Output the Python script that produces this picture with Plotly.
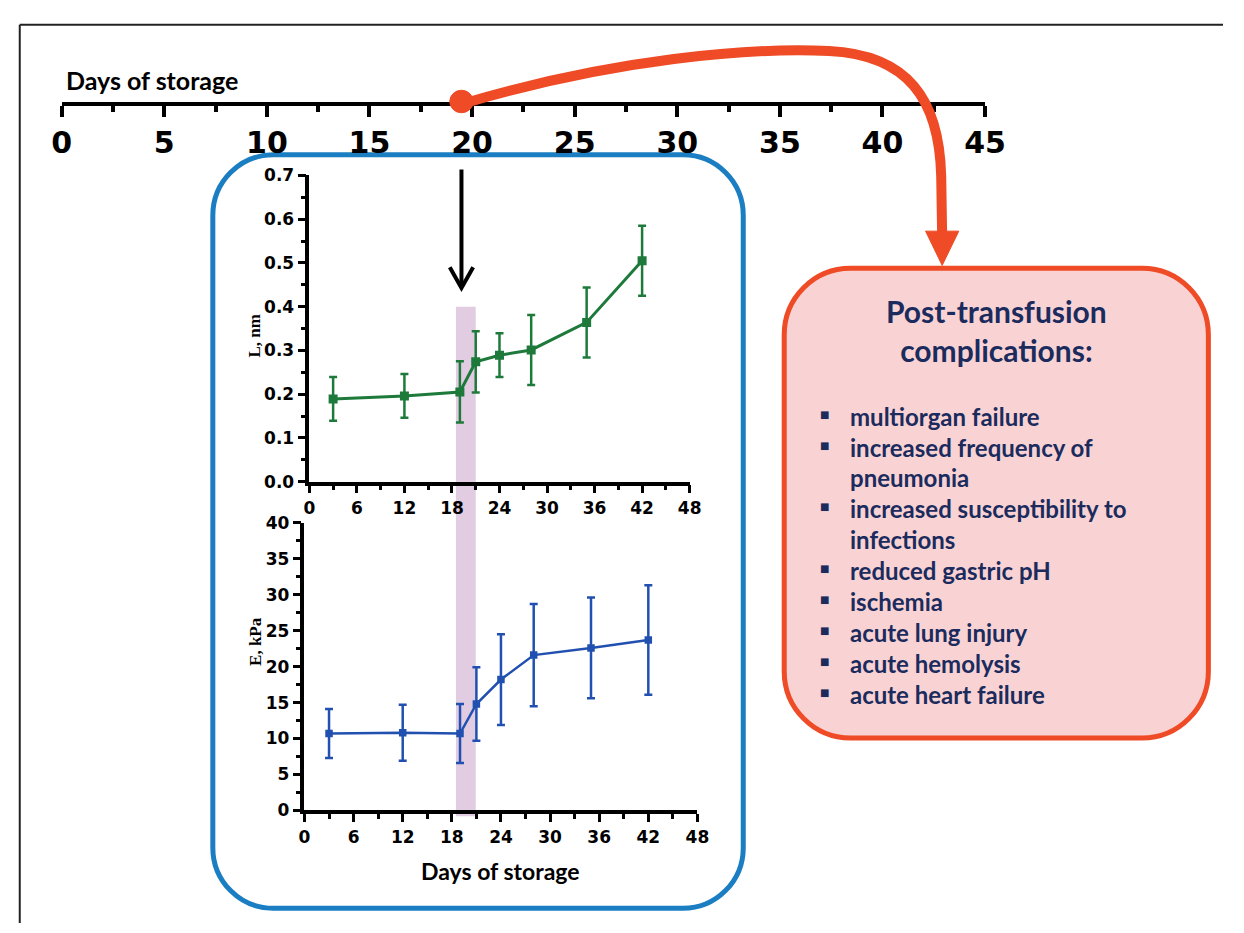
import plotly.graph_objects as go

W, H = 1244, 933


def px(x):
    return x / W


def py(y):
    return 1 - y / H


# ---------------- data ----------------
days = [3, 12, 19, 21, 24, 28, 35, 42]
L_nm = [0.189, 0.196, 0.205, 0.274, 0.289, 0.301, 0.364, 0.505]
L_err = [0.050, 0.050, 0.070, 0.070, 0.050, 0.080, 0.080, 0.080]
E_kpa = [10.7, 10.8, 10.7, 14.8, 18.2, 21.6, 22.6, 23.7]
E_err = [3.4, 3.9, 4.1, 5.1, 6.3, 7.1, 7.0, 7.6]
timeline_ticks = list(range(0, 46, 5))
band_days = [18.5, 21.0]
band_top_L = 0.4
title_lines = ["Post-transfusion", "complications:"]
complication_lines = [
    (True, "multiorgan failure"),
    (True, "increased frequency of"),
    (False, "pneumonia"),
    (True, "increased susceptibility to"),
    (False, "infections"),
    (True, "reduced gastric pH"),
    (True, "ischemia"),
    (True, "acute lung injury"),
    (True, "acute hemolysis"),
    (True, "acute heart failure"),
]

GREEN = "#1d7a3a"
BLUE = "#2150b0"
ORANGE = "#ee4b26"
NAVY = "#1b2b5e"

fig = go.Figure()

fig.add_trace(go.Scatter(
    x=days, y=L_nm, mode="lines+markers", xaxis="x", yaxis="y",
    line=dict(color=GREEN, width=3),
    marker=dict(symbol="square", size=9, color=GREEN),
    error_y=dict(type="data", array=L_err, color=GREEN, thickness=2.5, width=4),
    showlegend=False, hoverinfo="skip"))

fig.add_trace(go.Scatter(
    x=days, y=E_kpa, mode="lines+markers", xaxis="x2", yaxis="y2",
    line=dict(color=BLUE, width=2.5),
    marker=dict(symbol="square", size=7.5, color=BLUE),
    error_y=dict(type="data", array=E_err, color=BLUE, thickness=2.5, width=4),
    showlegend=False, hoverinfo="skip"))

fig.add_trace(go.Scatter(
    x=[timeline_ticks[0], timeline_ticks[-1]], y=[0, 0], xaxis="x3", yaxis="y3",
    mode="markers", marker=dict(opacity=0), showlegend=False, hoverinfo="skip"))

tickfont = dict(family="DejaVu Sans", size=17, color="black", weight="bold")
common = dict(showline=True, linecolor="black", linewidth=3.5, ticks="outside",
              ticklen=8, tickwidth=3, tickcolor="black", showgrid=False,
              zeroline=False, tickfont=tickfont)
minor_common = dict(ticks="outside", ticklen=5, tickwidth=2.5, tickcolor="black", showgrid=False)

up_y = [py(482), py(169)]
lo_y = [py(818), py(524)]

fig.update_layout(
    width=W, height=H,
    margin=dict(l=0, r=0, t=0, b=0, pad=0),
    paper_bgcolor="white", plot_bgcolor="rgba(0,0,0,0)",
    showlegend=False,
    xaxis=dict(domain=[px(307), px(697)], range=[0, 48], tick0=0, dtick=6,
               anchor="y", minor=dict(dtick=3, tick0=0, **minor_common), **common),
    yaxis=dict(domain=up_y, range=[0, 0.7], tick0=0, dtick=0.1, tickformat=".1f",
               anchor="x", minor=dict(dtick=0.05, tick0=0, **minor_common), **common),
    xaxis2=dict(domain=[px(302), px(705)], range=[0, 48], tick0=0, dtick=6,
                anchor="y2", minor=dict(dtick=3, tick0=0, **minor_common), **common),
    yaxis2=dict(domain=lo_y, range=[0, 40], tick0=0, dtick=5,
                anchor="x2", minor=dict(dtick=2.5, tick0=0, **minor_common), **common),
    xaxis3=dict(domain=[px(53), px(1000)], range=[timeline_ticks[0], timeline_ticks[-1]],
                tickvals=timeline_ticks, anchor="y3", showline=True, linecolor="black",
                linewidth=4, ticks="outside", ticklen=11, tickwidth=4, tickcolor="black",
                showgrid=False, zeroline=False,
                tickfont=dict(family="DejaVu Sans", size=30, color="black", weight="bold"),
                minor=dict(dtick=2.5, tick0=0, ticks="outside", ticklen=6, tickwidth=3.5,
                           tickcolor="black", showgrid=False)),
    yaxis3=dict(domain=[py(94), py(60)], range=[0, 1], anchor="x3", visible=False),
)


def rrect(x0, y0, x1, y1, r):
    k = 0.5523 * r
    pts = [
        f"M {px(x0 + r)},{py(y0)}",
        f"L {px(x1 - r)},{py(y0)}",
        f"C {px(x1 - r + k)},{py(y0)} {px(x1)},{py(y0 + r - k)} {px(x1)},{py(y0 + r)}",
        f"L {px(x1)},{py(y1 - r)}",
        f"C {px(x1)},{py(y1 - r + k)} {px(x1 - r + k)},{py(y1)} {px(x1 - r)},{py(y1)}",
        f"L {px(x0 + r)},{py(y1)}",
        f"C {px(x0 + r - k)},{py(y1)} {px(x0)},{py(y1 - r + k)} {px(x0)},{py(y1 - r)}",
        f"L {px(x0)},{py(y0 + r)}",
        f"C {px(x0)},{py(y0 + r - k)} {px(x0 + r - k)},{py(y0)} {px(x0 + r)},{py(y0)}",
        "Z",
    ]
    return " ".join(pts)


def ppath(cmds):
    out = []
    for c in cmds:
        if isinstance(c, str):
            out.append(c)
        else:
            out.append(f"{px(c[0])},{py(c[1])}")
    return " ".join(out)


shapes = []
# frame
shapes.append(dict(type="line", xref="paper", yref="paper", x0=px(10), y0=py(15), x1=1, y1=py(15),
                   line=dict(color="#222", width=2)))
shapes.append(dict(type="line", xref="paper", yref="paper", x0=px(10), y0=py(15), x1=px(10), y1=0,
                   line=dict(color="#222", width=2)))
# purple band (upper axis days -> continuous down past lower axis)
band_top = up_y[0] + band_top_L / 0.7 * (up_y[1] - up_y[0])
shapes.append(dict(type="rect", xref="x", yref="paper", x0=band_days[0], x1=band_days[1],
                   y0=lo_y[0] - 6 / H, y1=band_top, fillcolor="#e2cce2",
                   line=dict(width=0), layer="below"))
# blue rounded box
shapes.append(dict(type="path", xref="paper", yref="paper", path=rrect(208, 148, 752, 918, 62),
                   line=dict(color="#1b7ec2", width=5), layer="below"))
# red rounded box
shapes.append(dict(type="path", xref="paper", yref="paper", path=rrect(794, 264, 1229, 744, 68),
                   fillcolor="#f9d3d3", line=dict(color=ORANGE, width=5), layer="below"))
# black arrow
shapes.append(dict(type="line", xref="paper", yref="paper", x0=px(463), y0=py(163), x1=px(463), y1=py(282),
                   line=dict(color="black", width=4), layer="above"))
shapes.append(dict(type="path", xref="paper", yref="paper",
                   path=ppath(["M", (451, 263), "L", (463, 284), "L", (475, 263)]),
                   line=dict(color="black", width=4), layer="above"))
# orange curved arrow
shapes.append(dict(type="path", xref="paper", yref="paper",
                   path=ppath(["M", (467, 95), "C", (620, 50), (760, 38), (840, 42),
                               "C", (920, 46), (953, 90), (955, 170), "L", (956, 232)]),
                   line=dict(color=ORANGE, width=10), layer="above"))
shapes.append(dict(type="path", xref="paper", yref="paper",
                   path=ppath(["M", (939, 226), "L", (973, 226), "L", (956, 261), "Z"]),
                   fillcolor=ORANGE, line=dict(color=ORANGE, width=1), layer="above"))
shapes.append(dict(type="circle", xref="paper", yref="paper", x0=px(451), x1=px(475),
                   y0=py(105), y1=py(82), fillcolor=ORANGE, line=dict(color=ORANGE, width=1),
                   layer="above"))

annotations = []
annotations.append(dict(text="Days of storage", x=px(55), y=py(72), xref="paper", yref="paper",
                        xanchor="left", yanchor="middle", showarrow=False,
                        font=dict(family="Lato", size=25, color="black", weight="bold")))
annotations.append(dict(text="Days of storage", x=px(503), y=py(880), xref="paper", yref="paper",
                        xanchor="center", yanchor="middle", showarrow=False,
                        font=dict(family="Lato", size=23, color="black", weight="bold")))
annotations.append(dict(text="L, nm", x=px(251), y=py(333), xref="paper", yref="paper",
                        xanchor="center", yanchor="middle", textangle=-90, showarrow=False,
                        font=dict(family="Liberation Serif", size=17, color="black", weight="bold")))
annotations.append(dict(text="E, kPa", x=px(251), y=py(645), xref="paper", yref="paper",
                        xanchor="center", yanchor="middle", textangle=-90, showarrow=False,
                        font=dict(family="Liberation Serif", size=17, color="black", weight="bold")))
annotations.append(dict(text="<br>".join(title_lines), x=px(1012), y=py(328), xref="paper", yref="paper",
                        xanchor="center", yanchor="middle", showarrow=False, align="center",
                        font=dict(family="Lato", size=30, color=NAVY, weight="bold")))
for i, (bullet, txt) in enumerate(complication_lines):
    yy = 415 + i * 31.6
    if bullet:
        annotations.append(dict(text="■", x=px(835), y=py(yy - 2), xref="paper", yref="paper",
                                xanchor="center", yanchor="middle", showarrow=False,
                                font=dict(family="DejaVu Sans", size=10, color=NAVY)))
    annotations.append(dict(text=txt, x=px(859), y=py(yy), xref="paper", yref="paper",
                            xanchor="left", yanchor="middle", showarrow=False,
                            font=dict(family="Lato", size=24, color=NAVY, weight="bold")))

fig.update_layout(shapes=shapes, annotations=annotations)
fig.write_html(
    "out.html",
    config={"displayModeBar": False},
    post_script=(
        "document.documentElement.style.margin='0';document.documentElement.style.overflow='hidden';"
        "document.body.style.margin='0';document.body.style.padding='0';document.body.style.overflow='hidden';"
        "var _d=document.getElementById('{plot_id}');_d.style.position='fixed';_d.style.left='0px';_d.style.top='0px';"
    ),
)
